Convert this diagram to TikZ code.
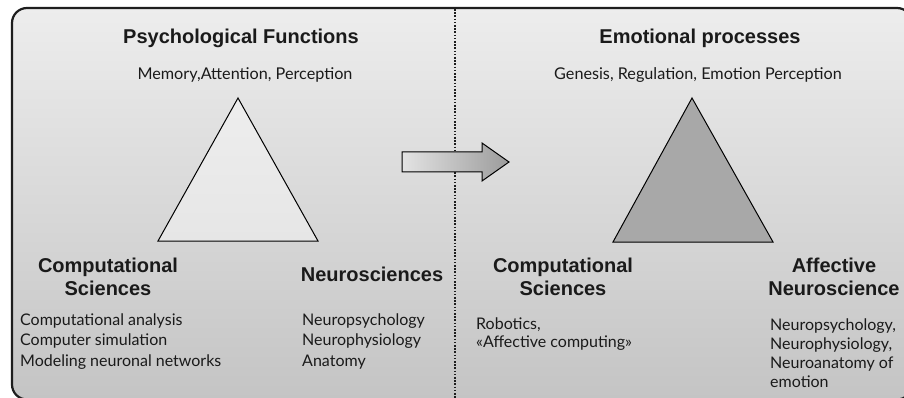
\documentclass[tikz,border=0pt]{standalone}
\usepackage{fontspec}
\setmainfont{Lato}
\newfontfamily\headfont{Liberation Sans}
\definecolor{panelTop}{HTML}{EDEDED}
\definecolor{panelBottom}{HTML}{C4C4C4}
\definecolor{frameInk}{HTML}{1E1E1E}
\definecolor{triLight}{HTML}{E6E6E6}
\definecolor{triDark}{HTML}{A8A8A8}
\definecolor{textInk}{HTML}{1A1A1A}
\tikzset{
  heading/.style={font=\headfont\bfseries\fontsize{20}{22}\selectfont, text=textInk, inner sep=0pt, anchor=base},
  subhead/.style={font=\fontsize{16.2}{18}\selectfont, text=textInk, inner sep=0pt, anchor=base},
  field/.style={font=\headfont\bfseries\fontsize{20}{22.5}\selectfont, text=textInk, inner sep=0pt, align=center, anchor=base},
  itemlist/.style={font=\fontsize{16}{20.5}\selectfont, text=textInk, inner sep=0pt, align=left, anchor=base west},
  tri/.style={draw=black, line width=1pt, line join=miter},
}
\begin{document}
\begin{tikzpicture}[x=1pt, y=-1pt]
\useasboundingbox (0,0) rectangle (904,398);
\clip (0,0) rectangle (904,398);

% rounded panel with a vertical grey gradient
\draw[draw=frameInk, line width=2.2pt, rounded corners=15pt,
      top color=panelTop, bottom color=panelBottom]
  (12,8) rectangle (912,399.5);

% dotted divider between the two halves
\coordinate (divTop) at (455,9);
\coordinate (divBot) at (455,398);
\draw[line width=2.2pt, dash pattern=on 1.6pt off 1.6pt, frameInk] (divTop) -- (divBot);

% left triangle
\coordinate (lA) at (238,98);
\coordinate (lB) at (158,241);
\coordinate (lC) at (318,241);
\draw[tri, top color=triLight!70!white, bottom color=triLight] (lA) -- (lB) -- (lC) -- cycle;

% right triangle
\coordinate (rA) at (692,98);
\coordinate (rB) at (613,242);
\coordinate (rC) at (773,242);
\draw[tri, fill=triDark] (rA) -- (rB) -- (rC) -- cycle;

% transition arrow (shaft plus head)
\coordinate (arTail) at (402,162);
\coordinate (arTip) at (509,162);
\draw[draw=black, line width=1pt, line join=miter,
      left color=gray!22, right color=gray!78]
  (arTail) ++(0,-10) -- (482,152) -- (482,143) -- (arTip) -- (482,181) -- (482,172) -- (402,172) -- cycle;

% left half
\node[heading] (psyTitle) at (241,44) {Psychological Functions};
\node[subhead] (psyItems) at (245,80) {Memory,Attention, Perception};
\node[field] (compL) at (108,295) {Computational\\Sciences};
\node[field] (neuro) at (372,281) {Neurosciences};
\node[itemlist] (compLItems) at (20,366) {Computational analysis\\Computer simulation\\Modeling neuronal networks};
\node[itemlist] (neuroItems) at (302,366) {Neuropsychology\\Neurophysiology\\Anatomy};

% right half
\node[heading] (emoTitle) at (700,44) {Emotional processes};
\node[subhead] (emoItems) at (698,80) {Genesis, Regulation, Emotion Perception};
\node[field] (compR) at (563,295) {Computational\\Sciences};
\node[field] (affect) at (834,295) {Affective\\Neuroscience};
\node[itemlist, font=\fontsize{16}{17.5}\selectfont] (compRItems) at (476,347) {Robotics,\\«Affective computing»};
\node[itemlist, font=\fontsize{16}{18.7}\selectfont] (affectItems) at (770,387) {Neuropsychology,\\Neurophysiology,\\Neuroanatomy of\\emotion};
\end{tikzpicture}
\end{document}
